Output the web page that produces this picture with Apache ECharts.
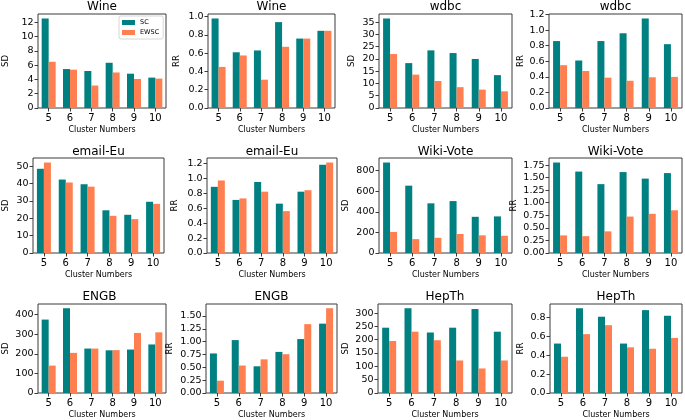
<!DOCTYPE html>
<html><head><meta charset="utf-8">
<script src="https://cdn.jsdelivr.net/npm/echarts@6/dist/echarts.min.js"></script>
<style>html,body{margin:0;padding:0;background:#fff}#c{width:685px;height:420px}</style>
</head><body><div id="c"></div>
<script>
// ---------- data ----------
const categories = ['5', '6', '7', '8', '9', '10'];
const seriesNames = ['SC', 'EWSC'];
const panelTitles = ['Wine', 'Wine', 'wdbc', 'wdbc', 'email-Eu', 'email-Eu', 'Wiki-Vote', 'Wiki-Vote', 'ENGB', 'ENGB', 'HepTh', 'HepTh'];
const yNames = ['SD', 'RR', 'SD', 'RR', 'SD', 'RR', 'SD', 'RR', 'SD', 'RR', 'SD', 'RR'];
const xName = 'Cluster Numbers';

const wineSD_SC = [12.55, 5.46, 5.19, 6.34, 4.81, 4.26];
const wineSD_EWSC = [6.48, 5.37, 3.15, 4.98, 4.07, 4.12];
const wineRR_SC = [0.98, 0.61, 0.63, 0.94, 0.76, 0.845];
const wineRR_EWSC = [0.45, 0.575, 0.31, 0.67, 0.76, 0.845];
const wdbcSD_SC = [36.5, 18.3, 23.5, 22.4, 20.0, 13.4];
const wdbcSD_EWSC = [22.0, 13.6, 11.0, 8.5, 7.5, 6.8];
const wdbcRR_SC = [0.86, 0.61, 0.86, 0.96, 1.15, 0.82];
const wdbcRR_EWSC = [0.55, 0.475, 0.39, 0.35, 0.395, 0.40];
const emailSD_SC = [48.5, 42.3, 39.6, 24.6, 22.0, 29.5];
const emailSD_EWSC = [52.1, 40.6, 38.2, 21.4, 19.5, 28.3];
const emailRR_SC = [0.885, 0.71, 0.95, 0.66, 0.82, 1.18];
const emailRR_EWSC = [0.97, 0.73, 0.82, 0.56, 0.84, 1.21];
const wikiSD_SC = [880, 655, 483, 505, 352, 356];
const wikiSD_EWSC = [205, 135, 148, 185, 172, 168];
const wikiRR_SC = [1.80, 1.62, 1.37, 1.61, 1.48, 1.59];
const wikiRR_EWSC = [0.35, 0.335, 0.43, 0.725, 0.78, 0.85];
const engbSD_SC = [375, 433, 227, 218, 222, 248];
const engbSD_EWSC = [140, 205, 227, 219, 307, 310];
const engbRR_SC = [0.77, 1.03, 0.52, 0.80, 1.05, 1.35];
const engbRR_EWSC = [0.24, 0.535, 0.655, 0.755, 1.34, 1.65];
const hepSD_SC = [245, 318, 227, 245, 315, 230];
const hepSD_EWSC = [195, 230, 198, 122, 92, 122];
const hepRR_SC = [0.525, 0.90, 0.81, 0.525, 0.88, 0.82];
const hepRR_EWSC = [0.385, 0.625, 0.72, 0.485, 0.47, 0.585];

const wineSDTicks = [0, 2, 4, 6, 8, 10, 12];
const wineRRTicks = [0, 0.2, 0.4, 0.6, 0.8, 1.0];
const wdbcSDTicks = [0, 5, 10, 15, 20, 25, 30, 35];
const wdbcRRTicks = [0, 0.2, 0.4, 0.6, 0.8, 1.0, 1.2];
const emailSDTicks = [0, 10, 20, 30, 40, 50];
const emailRRTicks = [0, 0.2, 0.4, 0.6, 0.8, 1.0, 1.2];
const wikiSDTicks = [0, 200, 400, 600, 800];
const wikiRRTicks = [0, 0.25, 0.5, 0.75, 1.0, 1.25, 1.5, 1.75];
const engbSDTicks = [0, 100, 200, 300, 400];
const engbRRTicks = [0, 0.25, 0.5, 0.75, 1.0, 1.25, 1.5];
const hepSDTicks = [0, 50, 100, 150, 200, 250, 300];
const hepRRTicks = [0, 0.2, 0.4, 0.6, 0.8];
const tickDecimals = [0, 1, 0, 1, 0, 1, 0, 2, 0, 2, 0, 1];

// ---------- layout ----------
const panelData = [
  [wineSD_SC, wineSD_EWSC, wineSDTicks], [wineRR_SC, wineRR_EWSC, wineRRTicks],
  [wdbcSD_SC, wdbcSD_EWSC, wdbcSDTicks], [wdbcRR_SC, wdbcRR_EWSC, wdbcRRTicks],
  [emailSD_SC, emailSD_EWSC, emailSDTicks], [emailRR_SC, emailRR_EWSC, emailRRTicks],
  [wikiSD_SC, wikiSD_EWSC, wikiSDTicks], [wikiRR_SC, wikiRR_EWSC, wikiRRTicks],
  [engbSD_SC, engbSD_EWSC, engbSDTicks], [engbRR_SC, engbRR_EWSC, engbRRTicks],
  [hepSD_SC, hepSD_EWSC, hepSDTicks], [hepRR_SC, hepRR_EWSC, hepRRTicks]
];
// [left, right, top, bottom, yNameX, titleY]
const boxes = [
  [38, 166, 14, 108, 10, 7], [208, 335, 14, 108, 181, 7], [379, 512, 14, 108, 356, 7], [549, 682, 14, 108, 525, 7],
  [33, 164, 158, 253, 10, 152], [207, 337, 158, 253, 179, 152], [379, 512, 158, 253, 350, 152], [549, 682, 158, 253, 518, 152],
  [33, 166, 304, 398, 5, 297], [206, 337, 304, 398, 174, 297], [378, 512, 304, 398, 350, 297], [550, 682, 304, 398, 525, 297]
];
const colors = ['#008080', '#FF7F50'];
const FONT = 'DejaVu Sans';
const frameColor = '#3a3a3a';

const grid = [], xAxis = [], yAxis = [], series = [], graphic = [];
boxes.forEach((b, i) => {
  const [l, r, t, bt, yx, ty] = b;
  const [sc, ew, ticks] = panelData[i];
  const yMax = Math.max(...sc, ...ew) * 1.05;
  grid.push({left: l, top: t, width: r - l, height: bt - t, show: true, borderColor: frameColor, borderWidth: 1, backgroundColor: 'transparent', containLabel: false});
  xAxis.push({
    type: 'category', gridIndex: i, data: categories,
    axisLine: {show: false},
    axisTick: {show: true, alignWithLabel: true, length: 3.5, lineStyle: {color: frameColor}},
    axisLabel: {fontFamily: FONT, fontSize: 10, color: '#000', margin: 5},
    name: xName, nameLocation: 'middle', nameGap: 18,
    nameTextStyle: {fontFamily: FONT, fontSize: 8, color: '#000'}
  });
  const dec = tickDecimals[i];
  yAxis.push({
    type: 'value', gridIndex: i, min: 0, max: yMax,
    axisLine: {show: false},
    splitLine: {show: false},
    axisTick: {show: true, length: 3.5, lineStyle: {color: frameColor}, customValues: ticks},
    axisLabel: {fontFamily: FONT, fontSize: 9.5, color: '#000', margin: 4.5, customValues: ticks,
      formatter: v => Number(v).toFixed(dec)},
    name: yNames[i], nameLocation: 'middle', nameGap: l - yx, nameRotate: 90,
    nameTextStyle: {fontFamily: FONT, fontSize: 8.5, color: '#000'}
  });
  [sc, ew].forEach((d, k) => {
    series.push({
      type: 'bar', name: seriesNames[k], xAxisIndex: i, yAxisIndex: i, data: d,
      barWidth: 7, barGap: '0%', itemStyle: {color: colors[k]}, silent: true, animation: false
    });
  });
  graphic.push({type: 'text', x: (l + r) / 2, y: ty, style: {text: panelTitles[i], fontFamily: FONT, fontSize: 12, fill: '#000', textAlign: 'center', textVerticalAlign: 'middle'}});
});

const chart = echarts.init(document.getElementById('c'), null, {renderer: 'canvas'});
chart.setOption({
  animation: false,
  backgroundColor: '#fff',
  grid, xAxis, yAxis, series, graphic,
  legend: {
    data: seriesNames, orient: 'vertical', left: 119, top: 16,
    itemWidth: 13, itemHeight: 5, itemGap: 3, icon: 'rect',
    padding: [3, 4, 3, 3], borderColor: '#cccccc', borderWidth: 0.8, borderRadius: 2,
    textStyle: {fontFamily: FONT, fontSize: 6.5, color: '#000'}
  }
});
</script></body></html>
